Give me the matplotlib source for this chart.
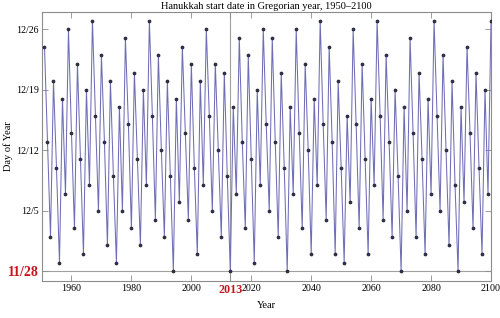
import matplotlib
matplotlib.use("Agg")
import matplotlib.pyplot as plt

# first day of Hanukkah (25 Kislev), as days after 28 November, for 1951-2100
first_year = 1951
days_after_nov28 = [
    26, 15, 4, 22, 12, 1, 20, 9, 28,
    16, 5, 24, 13, 2, 21, 10, 29, 18, 7,
    25, 15, 3, 22, 11, 1, 19, 7, 27, 17,
    5, 23, 13, 3, 21, 10, 29, 18, 6, 25,
    14, 4, 22, 11, 0, 20, 8, 26, 16, 6,
    24, 12, 2, 22, 10, 28, 18, 7, 24, 14,
    4, 23, 11, 0, 19, 9, 27, 15, 5, 25,
    13, 1, 21, 10, 28, 17, 7, 27, 15, 4,
    23, 12, 0, 19, 9, 28, 16, 5, 24, 14,
    2, 20, 10, 29, 17, 6, 26, 15, 2, 22,
    12, 1, 18, 8, 28, 17, 5, 24, 13, 2,
    20, 10, 29, 18, 6, 25, 15, 4, 21, 11,
    0, 19, 7, 27, 16, 4, 23, 13, 2, 20,
    9, 29, 18, 7, 25, 14, 3, 22, 10, 0,
    19, 8, 26, 16, 5, 23, 12, 2, 21, 9,
    29,
]
years = list(range(first_year, first_year + len(days_after_nov28)))

year_ticks = [1960, 1980, 2000, 2013, 2020, 2040, 2060, 2080, 2100]
day_ticks = [0, 7, 14, 21, 28]
day_tick_labels = ["11/28", "12/5", "12/12", "12/19", "12/26"]
marked_year = 2013

RED = "#c8141e"
FRAME = "#8c8c8c"

plt.rcParams["font.family"] = ["Liberation Serif", "DejaVu Serif"]

fig = plt.figure(figsize=(5, 3.18), dpi=100)
ax = fig.add_axes([0.083, 0.117, 0.899, 0.845])

ax.axhline(0, color="#a0a0a0", lw=0.8, zorder=1)
ax.axvline(marked_year, color="#a0a0a0", lw=0.8, zorder=1)
ax.plot(years, days_after_nov28, color="#6e6eb6", lw=0.75, zorder=2)
ax.plot(years, days_after_nov28, ls="none", marker="o", ms=1.7,
        mfc="#2e2e44", mec="#2e2e44", zorder=3)

ax.set_xlim(1950, 2100)
ax.set_ylim(-1.09, 30.0)

ax.set_xticks(year_ticks)
ax.set_xticklabels([str(y) for y in year_ticks])
ax.set_yticks(day_ticks)
ax.set_yticklabels(day_tick_labels)
ax.tick_params(direction="in", length=4, width=0.6, color=FRAME,
               labelsize=7.2, pad=2, top=True, right=True)

for lab in ax.get_xticklabels():
    if lab.get_text() == str(marked_year):
        lab.set_color(RED)
        lab.set_fontweight("bold")
        lab.set_fontsize(8.7)
for lab in ax.get_yticklabels():
    if lab.get_text() == "11/28":
        lab.set_color(RED)
        lab.set_fontweight("bold")
        lab.set_fontsize(10)

for sp in ax.spines.values():
    sp.set_color(FRAME)
    sp.set_linewidth(0.8)

ax.set_title("Hanukkah start date in Gregorian year, 1950\u20132100",
             fontsize=7.5, pad=2)
ax.set_xlabel("Year", fontsize=7.5, labelpad=4)
fig.text(0.016, 0.54, "Day of Year", rotation=90, fontsize=7.5,
         ha="center", va="center")

fig.savefig("out.png", dpi=100)
